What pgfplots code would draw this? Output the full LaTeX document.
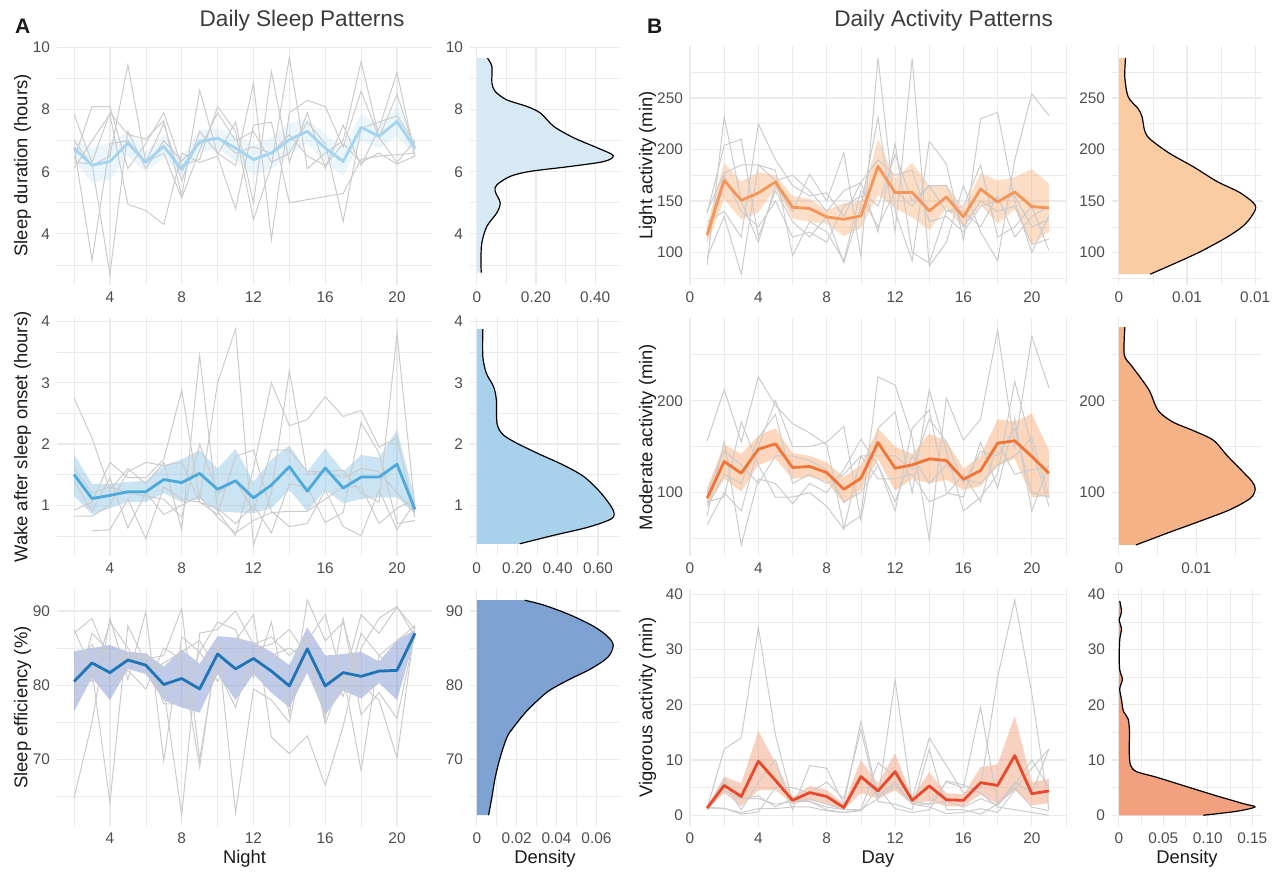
\documentclass[border=0pt]{standalone}
\usepackage{fontspec}
\setmainfont{Liberation Sans}
\usepackage{pgfplots}
\usepackage{pgfplotstable}
\pgfplotsset{compat=1.18}
\usepgfplotslibrary{fillbetween}

\definecolor{gridc}{HTML}{EBEBEB}
\definecolor{tickc}{HTML}{4D4D4D}
\definecolor{titc}{HTML}{1A1A1A}
\definecolor{greyc}{HTML}{CBCBCB}
% sleep colours
\definecolor{durc}{HTML}{A3D5F0}
\definecolor{durrib}{HTML}{C7E3F5}
\definecolor{durden}{HTML}{D6E9F5}
\definecolor{wasoc}{HTML}{4BAADB}
\definecolor{wasorib}{HTML}{89C3E7}
\definecolor{wasoden}{HTML}{A8D2EC}
\definecolor{effc}{HTML}{1F74B8}
\definecolor{effrib}{HTML}{718BCD}
\definecolor{effden}{HTML}{7EA3D3}
% activity colours
\definecolor{litc}{HTML}{F4965A}
\definecolor{litrib}{HTML}{F9B37F}
\definecolor{litden}{HTML}{FBCBA1}
\definecolor{modc}{HTML}{F07436}
\definecolor{modrib}{HTML}{F79F61}
\definecolor{modden}{HTML}{F6B287}
\definecolor{vigc}{HTML}{E8492B}
\definecolor{vigrib}{HTML}{F18D65}
\definecolor{vigden}{HTML}{F2A07E}

\pgfplotsset{
  panel/.style={
    scale only axis, anchor=north west,
    axis line style={draw=none},
    major tick length=0pt, minor tick length=0pt,
    xmajorgrids, ymajorgrids, xminorgrids, yminorgrids,
    major grid style={draw=gridc, line width=0.6pt},
    minor grid style={draw=gridc, line width=0.3pt},
    tick label style={font=\fontsize{7.7}{9}\selectfont, text=tickc},
    /pgf/number format/assume math mode=true,
    scaled ticks=false,
    label style={font=\fontsize{9.2}{11}\selectfont, text=titc},
    xlabel style={at={(axis description cs:0.5,-0.157)}, anchor=base},
  },
  mainA/.style={panel, width=187.5pt, xmin=1.05, xmax=21.95,
    xtick={4,8,12,16,20}, minor xtick={2,6,10,14,18},
    ylabel style={at={(axis description cs:-0.092,0.5)}, anchor=center}},
  mainB/.style={panel, width=188pt, xmin=0, xmax=22,
    xtick={0,4,8,12,16,20}, minor xtick={2,6,10,14,18,22},
    ylabel style={at={(axis description cs:-0.113,0.5)}, anchor=center}},
  dens/.style={panel, width=75pt},
  greyline/.style={draw=greyc, line width=0.5pt, forget plot},
  meanline/.style={line width=1.4pt, line join=round},
  outline/.style={draw=black, line width=0.6pt, smooth, tension=0.5},
}

% ---------- sleep data ----------
\pgfplotstableread{
x m lo hi
2 6.76 6.35 7.05
3 6.21 5.65 6.75
4 6.33 5.75 6.95
5 6.92 6.50 7.30
6 6.30 6.00 6.65
7 6.82 6.45 7.20
8 6.07 5.80 6.45
9 6.98 6.60 7.35
10 7.08 6.75 7.40
11 6.76 6.35 7.15
12 6.39 5.90 6.85
13 6.60 6.10 7.10
14 7.03 6.55 7.55
15 7.30 6.90 7.70
16 6.76 6.30 7.20
17 6.33 5.85 6.80
18 7.43 7.00 7.85
19 7.14 6.75 7.50
20 7.62 7.15 8.10
21 6.76 6.50 7.05
}\durm
\pgfplotstableread{
x a b c d e f
2 7.85 6.40 6.10 7.00 6.80 6.30
3 6.30 8.10 7.00 6.20 3.15 6.25
4 7.90 8.10 7.85 6.50 6.90 2.70
5 7.20 6.10 4.95 9.44 7.00 7.30
6 7.05 6.90 4.75 6.30 6.30 6.10
7 7.65 7.90 4.30 7.55 6.60 7.00
8 5.20 6.20 6.60 5.70 5.15 6.35
9 8.62 6.40 6.30 7.30 6.70 6.90
10 6.55 8.10 6.50 6.60 7.90 7.10
11 7.60 7.30 4.80 6.20 7.00 6.60
12 5.00 4.45 7.50 8.85 7.30 6.80
13 9.23 6.20 7.60 3.82 6.30 6.60
14 6.30 9.68 5.00 7.90 6.60 7.20
15 7.90 6.10 nan 8.30 7.60 6.50
16 6.10 6.60 nan 8.10 6.90 6.20
17 7.50 7.00 5.30 6.80 4.40 6.90
18 6.20 9.55 6.40 8.60 7.40 6.30
19 7.40 7.10 6.50 7.10 7.60 6.60
20 9.20 6.30 6.55 8.50 7.80 6.25
21 6.50 7.00 6.60 6.70 6.90 6.50
}\durg
\pgfplotstableread{
x m lo hi
2 1.50 1.15 1.83
3 1.11 0.85 1.35
4 1.16 0.95 1.35
5 1.22 1.05 1.38
6 1.22 1.05 1.40
7 1.42 1.20 1.65
8 1.37 1.05 1.75
9 1.52 1.10 1.90
10 1.26 0.90 1.60
11 1.40 0.88 1.92
12 1.12 0.87 1.38
13 1.33 0.95 1.75
14 1.63 1.25 1.98
15 1.23 0.90 1.55
16 1.61 1.25 1.93
17 1.28 1.03 1.55
18 1.46 1.10 1.82
19 1.46 1.13 1.78
20 1.67 1.13 2.23
21 0.93 0.85 1.10
}\wasom
\pgfplotstableread{
x a b c d e f
2 2.75 0.92 0.82 nan 1.40 1.60
3 2.10 1.05 0.82 0.58 0.90 1.20
4 1.25 1.70 1.00 0.60 1.45 1.30
5 1.60 1.45 1.55 1.10 0.63 1.20
6 1.35 1.45 1.70 0.45 1.20 1.15
7 1.70 1.75 1.65 1.30 0.85 1.10
8 0.60 2.88 1.70 1.10 1.00 0.80
9 3.45 1.10 1.05 1.05 1.15 2.00
10 0.90 3.00 0.85 0.95 0.80 1.20
11 0.50 3.88 1.80 0.70 0.55 1.40
12 1.60 0.35 1.90 1.00 0.75 0.90
13 3.00 1.20 0.90 0.55 0.88 1.90
14 2.30 3.20 0.65 1.35 0.90 1.90
15 2.40 1.50 0.70 1.30 0.90 1.55
16 2.77 1.55 1.25 0.72 1.10 1.55
17 2.45 1.57 0.65 0.88 1.30 1.45
18 2.55 1.20 0.50 2.35 1.30 1.60
19 1.95 1.05 1.25 1.85 0.70 1.55
20 2.10 3.80 0.60 0.70 0.95 1.20
21 0.80 0.95 1.05 0.75 1.10 0.90
}\wasog
\pgfplotstableread{
x m lo hi
2 80.5 76.5 84.6
3 83.0 81.0 85.0
4 81.7 78.0 85.4
5 83.4 82.2 84.5
6 82.7 81.5 84.3
7 80.1 78.0 82.5
8 80.9 77.0 84.8
9 79.5 76.3 82.9
10 84.2 81.5 86.6
11 82.2 78.0 86.4
12 83.6 81.5 85.8
13 81.9 79.0 84.5
14 79.9 77.0 82.7
15 84.9 81.7 87.8
16 79.9 76.0 84.0
17 81.7 79.3 84.2
18 81.2 78.2 84.5
19 81.9 80.3 83.2
20 82.0 78.0 86.0
21 87.0 86.5 87.5
}\effm
\pgfplotstableread{
x a b c d e f
2 87.0 64.8 87.5 82.5 82.0 78.0
3 89.0 75.0 82.0 85.5 80.5 87.0
4 83.0 89.0 64.2 80.0 88.5 84.5
5 84.0 80.8 88.0 82.0 85.0 83.5
6 83.5 89.9 83.0 79.5 81.5 84.0
7 84.0 69.8 79.5 85.0 83.0 77.5
8 90.3 86.5 62.5 83.5 84.5 77.5
9 70.0 84.5 87.0 69.0 86.0 84.5
10 85.0 88.5 87.5 86.0 82.0 80.5
11 86.0 87.5 90.0 62.8 77.0 84.0
12 89.5 81.0 85.5 79.5 85.0 83.5
13 73.0 88.5 86.5 78.0 85.5 84.0
14 70.8 76.0 84.0 75.0 87.5 85.0
15 73.2 91.5 86.0 86.5 84.0 83.5
16 66.5 86.0 89.5 74.8 75.5 82.0
17 74.5 88.5 80.5 81.5 89.0 78.5
18 85.0 80.0 89.5 68.5 76.0 87.0
19 89.0 78.0 87.0 84.0 79.0 84.0
20 90.6 70.2 90.5 86.0 75.5 82.0
21 86.5 88.0 87.5 88.0 87.0 86.5
}\effg

% ---------- activity data ----------
\pgfplotstableread{
x m lo hi
1 116.8 108 127
2 170.1 152 187
3 150.7 132 169
4 157.9 139 178
5 168.5 162 175
6 144.0 133 155
7 142.7 130 152
8 134.6 128 141
9 132.3 116 148
10 135.5 124 150
11 183.7 156 210
12 158.2 143 172
13 158.5 134 187
14 140.4 122 165
15 154.0 143 166
16 134.6 124 143
17 161.7 146 177
18 149.1 128 170
19 158.8 142 173
20 144.6 108 181
21 143.3 120 167
}\litm
\pgfplotstableread{
x a b c d e f
1 88 138 130 95 140 120
2 232 204 140 135 177 175
3 150 210 115 79 185 140
4 110 115 225 185 185 125
5 165 160 190 180 170 150
6 140 130 165 97 175 115
7 176 115 155 130 160 120
8 150 135 158 120 140 110
9 197 90 135 92 160 145
10 96 145 168 160 168 155
11 289 231 120 145 190 125
12 140 120 206 195 175 160
13 92 288 100 150 180 145
14 208 87 90 165 130 165
15 186 110 140 165 135 140
16 112 165 145 125 120 140
17 230 120 185 150 145 125
18 236 92 115 140 150 155
19 150 190 125 145 155 115
20 100 254 145 108 125 135
21 136 233 102 113 132 145
}\litg
\pgfplotstableread{
x m lo hi
1 93.8 85 105
2 133.8 115 152
3 121.1 101 142
4 147.3 130 162
5 153.1 137 170
6 127.3 115 143
7 128.4 117 140
8 121.8 112 133
9 103.6 88 117
10 115.6 103 130
11 154.5 136 170
12 126.5 102 150
13 130.2 115 142
14 136.7 110 164
15 134.9 114 156
16 114.5 103 126
17 124.0 107 140
18 153.8 129 180
19 156.4 137 177
20 139.3 95 186
21 121.1 96 146
}\modm
\pgfplotstableread{
x a b c d e f
1 156 65 75 90 85 100
2 212 100 156 95 120 145
3 155 80 43 177 110 130
4 226 150 115 130 160 110
5 195 200 110 95 185 140
6 175 150 88 95 110 140
7 165 150 110 100 120 135
8 152 155 100 85 110 125
9 62 172 125 60 120 90
10 75 70 158 140 140 100
11 226 170 130 115 140 130
12 217 188 80 115 140 90
13 160 100 170 120 125 140
14 49 212 190 90 180 110
15 203 145 100 98 155 130
16 157 80 95 120 110 115
17 180 95 155 90 145 110
18 277 120 105 155 140 130
19 150 221 180 120 170 140
20 270 150 80 125 100 160
21 214 85 130 128 95 95
}\modg
\pgfplotstableread{
x m lo hi
1 1.3 1.0 1.6
2 5.4 4.0 7.0
3 3.4 1.6 5.8
4 9.8 4.5 15.3
5 6.3 4.6 9.5
6 2.7 2.0 3.3
7 4.1 2.7 5.3
8 3.4 2.0 4.6
9 1.4 1.0 2.0
10 7.0 4.0 10.0
11 4.4 3.0 5.8
12 7.9 4.5 11.2
13 2.7 2.0 3.3
14 5.3 2.6 7.8
15 2.8 1.6 4.0
16 2.7 1.6 3.8
17 5.9 3.8 8.7
18 5.4 2.0 9.2
19 10.8 4.5 18.0
20 3.9 1.8 6.0
21 4.4 2.2 6.6
}\vigm
\pgfplotstableread{
x a b c d e f
1 1.2 1 1.3 1 1.5 1
2 12 6 1.3 4.5 1.2 6.5
3 14 1 0.2 3 0.5 3
4 34 6 0.6 3.5 1.2 3
5 14.5 10 5 1.5 1.2 2
6 2.5 1 5 3 1.5 2.5
7 3 9 4 2.5 1.5 2.5
8 2 8.5 6 1 0.8 1.5
9 1 2 3 0.5 0.5 1
10 1 17 15.5 0.8 1 7
11 9.5 3 2.5 5 3 3.5
12 7 24.5 2 1.2 5.5 6
13 3 2.5 1 0.5 2 2
14 14 2 12 1 1.5 2
15 9 6 1 6.2 0.3 2.5
16 4 5 1 5.5 0.5 1.5
17 5 19.6 0.2 4 1.2 3
18 25 2 2 1.5 0.5 1.8
19 39 6 5.5 1 4.5 5
20 22 4 10 0.5 8.5 1.5
21 1 12 5 0 12 0.8
}\vigg

\begin{document}
\begin{tikzpicture}
\path (0,0) rectangle (639.5pt,-436pt);

\node[anchor=base west, font=\bfseries\fontsize{10.5}{12}\selectfont, text=titc] at (4pt,-16.7pt) {A};
\node[anchor=base, font=\fontsize{11.3}{13}\selectfont, text=titc!85] at (151pt,-13.3pt) {Daily Sleep Patterns};
\node[anchor=base west, font=\bfseries\fontsize{10.5}{12}\selectfont, text=titc] at (320pt,-16.7pt) {B};
\node[anchor=base, font=\fontsize{11.3}{13}\selectfont, text=titc!85] at (471.8pt,-13.3pt) {Daily Activity Patterns};

% ===== A: sleep duration =====
\begin{axis}[mainA, at={(28.5pt,-23pt)}, height=119.5pt,
  ymin=2.35, ymax=10.05, ytick={4,6,8,10}, minor ytick={3,5,7,9},
  ylabel={Sleep duration (hours)}]
\pgfplotsinvokeforeach{a,b,c,d,e,f}{\addplot[greyline] table[x=x,y=#1]{\durg};}
\addplot[draw=none, name path=hi, forget plot] table[x=x,y=hi]{\durm};
\addplot[draw=none, name path=lo, forget plot] table[x=x,y=lo]{\durm};
\addplot[fill=durrib, fill opacity=0.35, draw=none] fill between[of=hi and lo];
\addplot[meanline, color=durc] table[x=x,y=m]{\durm};
\end{axis}
\begin{axis}[dens, at={(235pt,-23pt)}, height=119.5pt,
  xmin=-0.023, xmax=0.484, ymin=2.35, ymax=10.05,
  xtick={0,0.2,0.4}, xticklabels={0,0.20,0.40}, minor xtick={0.1,0.3},
  ytick={4,6,8,10}, minor ytick={3,5,7,9}]
\addplot[fill=durden, draw=none] coordinates {(0,2.75) (0.015,2.75) (0.014,3.17) (0.017,3.71) (0.034,4.24) (0.068,4.68) (0.079,5.0) (0.062,5.37) (0.068,5.58) (0.113,5.85) (0.18,6.01) (0.316,6.17) (0.43,6.33) (0.461,6.52) (0.407,6.77) (0.328,7.09) (0.26,7.46) (0.215,7.89) (0.17,8.10) (0.10,8.32) (0.062,8.59) (0.051,8.86) (0.051,9.39) (0.036,9.66) (0,9.66)};
\addplot[outline] coordinates {(0.015,2.75) (0.014,3.17) (0.017,3.71) (0.034,4.24) (0.068,4.68) (0.079,5.0) (0.062,5.37) (0.068,5.58) (0.113,5.85) (0.18,6.01) (0.316,6.17) (0.43,6.33) (0.461,6.52) (0.407,6.77) (0.328,7.09) (0.26,7.46) (0.215,7.89) (0.17,8.10) (0.10,8.32) (0.062,8.59) (0.051,8.86) (0.051,9.39) (0.036,9.66)};
\end{axis}

% ===== A: wake after sleep onset =====
\begin{axis}[mainA, at={(28.5pt,-159pt)}, height=119pt,
  ymin=0.17, ymax=4.06, ytick={1,2,3,4}, minor ytick={0.5,1.5,2.5,3.5},
  ylabel={Wake after sleep onset (hours)}]
\pgfplotsinvokeforeach{a,b,c,d,e,f}{\addplot[greyline] table[x=x,y=#1]{\wasog};}
\addplot[draw=none, name path=hi, forget plot] table[x=x,y=hi]{\wasom};
\addplot[draw=none, name path=lo, forget plot] table[x=x,y=lo]{\wasom};
\addplot[fill=wasorib, fill opacity=0.45, draw=none] fill between[of=hi and lo];
\addplot[meanline, color=wasoc] table[x=x,y=m]{\wasom};
\end{axis}
\begin{axis}[dens, at={(235pt,-159pt)}, height=119pt,
  xmin=-0.0335, xmax=0.709, ymin=0.17, ymax=4.06,
  xtick={0,0.2,0.4,0.6}, xticklabels={0,0.20,0.40,0.60}, minor xtick={0.1,0.3,0.5},
  ytick={1,2,3,4}, minor ytick={0.5,1.5,2.5,3.5}]
\addplot[fill=wasoden, draw=none] coordinates {(0,0.37) (0.213,0.37) (0.383,0.51) (0.55,0.64) (0.667,0.78) (0.675,0.92) (0.617,1.19) (0.533,1.46) (0.433,1.65) (0.3,1.85) (0.183,2.04) (0.125,2.17) (0.1,2.34) (0.097,2.72) (0.083,2.94) (0.047,3.16) (0.03,3.43) (0.03,3.88) (0,3.88)};
\addplot[outline] coordinates {(0.213,0.37) (0.383,0.51) (0.55,0.64) (0.667,0.78) (0.675,0.92) (0.617,1.19) (0.533,1.46) (0.433,1.65) (0.3,1.85) (0.183,2.04) (0.125,2.17) (0.1,2.34) (0.097,2.72) (0.083,2.94) (0.047,3.16) (0.03,3.43) (0.03,3.88)};
\end{axis}

% ===== A: sleep efficiency =====
\begin{axis}[mainA, at={(28.5pt,-294.5pt)}, height=118.5pt,
  ymin=61.05, ymax=92.95, ytick={70,80,90}, minor ytick={65,75,85},
  ylabel={Sleep efficiency (\%)}, xlabel={Night}]
\pgfplotsinvokeforeach{a,b,c,d,e,f}{\addplot[greyline] table[x=x,y=#1]{\effg};}
\addplot[draw=none, name path=hi, forget plot] table[x=x,y=hi]{\effm};
\addplot[draw=none, name path=lo, forget plot] table[x=x,y=lo]{\effm};
\addplot[fill=effrib, fill opacity=0.45, draw=none] fill between[of=hi and lo];
\addplot[meanline, color=effc] table[x=x,y=m]{\effm};
\end{axis}
\begin{axis}[dens, at={(235pt,-294.5pt)}, height=118.5pt,
  xmin=-0.0034, xmax=0.0718, ymin=61.05, ymax=92.95,
  xtick={0,0.02,0.04,0.06}, xticklabels={0,0.02,0.04,0.06}, minor xtick={0.01,0.03,0.05},
  ytick={70,80,90}, minor ytick={65,75,85}, xlabel={Density}]
\addplot[fill=effden, draw=none] coordinates {(0,62.5) (0.0059,62.5) (0.0076,64.97) (0.0093,67.66) (0.0118,70.35) (0.0152,73.04) (0.0186,74.4) (0.0253,76.6) (0.0354,79.1) (0.0456,80.67) (0.0574,82.24) (0.0658,83.8) (0.0684,85.38) (0.0658,86.5) (0.0591,87.85) (0.0472,89.42) (0.0338,90.77) (0.024,91.44) (0,91.44)};
\addplot[outline] coordinates {(0.0059,62.5) (0.0076,64.97) (0.0093,67.66) (0.0118,70.35) (0.0152,73.04) (0.0186,74.4) (0.0253,76.6) (0.0354,79.1) (0.0456,80.67) (0.0574,82.24) (0.0658,83.8) (0.0684,85.38) (0.0658,86.5) (0.0591,87.85) (0.0472,89.42) (0.0338,90.77) (0.024,91.44)};
\end{axis}

% ===== B: light activity =====
\begin{axis}[mainB, at={(345pt,-23pt)}, height=119.5pt,
  ymin=68.5, ymax=300.5, ytick={100,150,200,250}, minor ytick={75,125,175,225,275},
  ylabel={Light activity (min)}]
\pgfplotsinvokeforeach{a,b,c,d,e,f}{\addplot[greyline] table[x=x,y=#1]{\litg};}
\addplot[draw=none, name path=hi, forget plot] table[x=x,y=hi]{\litm};
\addplot[draw=none, name path=lo, forget plot] table[x=x,y=lo]{\litm};
\addplot[fill=litrib, fill opacity=0.45, draw=none] fill between[of=hi and lo];
\addplot[meanline, color=litc] table[x=x,y=m]{\litm};
\end{axis}
\begin{axis}[dens, at={(556pt,-23pt)}, height=119.5pt,
  xmin=-0.0005, xmax=0.0105, ymin=68.5, ymax=300.5,
  xtick={0,0.005,0.01}, xticklabels={0,0.01,0.01}, minor xtick={0.0025,0.0075},
  ytick={100,150,200,250}, minor ytick={75,125,175,225,275}]
\addplot[fill=litden, draw=none] coordinates {(0,79) (0.0023,79) (0.0042,90) (0.006,101) (0.0079,114.7) (0.0091,125.6) (0.0098,136.5) (0.0100,146) (0.0089,158) (0.0072,169) (0.0055,183) (0.0037,196.5) (0.0023,210) (0.0019,218) (0.0017,232) (0.0014,240) (0.00069,251) (0.00044,270) (0.00049,289) (0,289)};
\addplot[outline] coordinates {(0.0023,79) (0.0042,90) (0.006,101) (0.0079,114.7) (0.0091,125.6) (0.0098,136.5) (0.0100,146) (0.0089,158) (0.0072,169) (0.0055,183) (0.0037,196.5) (0.0023,210) (0.0019,218) (0.0017,232) (0.0014,240) (0.00069,251) (0.00044,270) (0.00049,289)};
\end{axis}

% ===== B: moderate activity =====
\begin{axis}[mainB, at={(345pt,-159pt)}, height=119pt,
  ymin=31, ymax=290, ytick={100,200}, minor ytick={50,150,250},
  ylabel={Moderate activity (min)}]
\pgfplotsinvokeforeach{a,b,c,d,e,f}{\addplot[greyline] table[x=x,y=#1]{\modg};}
\addplot[draw=none, name path=hi, forget plot] table[x=x,y=hi]{\modm};
\addplot[draw=none, name path=lo, forget plot] table[x=x,y=lo]{\modm};
\addplot[fill=modrib, fill opacity=0.42, draw=none] fill between[of=hi and lo];
\addplot[meanline, color=modc] table[x=x,y=m]{\modm};
\end{axis}
\begin{axis}[dens, at={(556pt,-159pt)}, height=119pt,
  xmin=-0.00044, xmax=0.00924, ymin=31, ymax=290,
  xtick={0,0.005}, xticklabels={0,0.01}, minor xtick={0.0025,0.0075},
  ytick={100,200}, minor ytick={50,150,250}]
\addplot[fill=modden, draw=none] coordinates {(0,43) (0.0011,43) (0.0033,57) (0.0053,69.3) (0.0072,81.6) (0.0085,94) (0.0088,104) (0.0086,112) (0.0079,124.5) (0.007,140) (0.0061,157) (0.0048,167.5) (0.0035,176.7) (0.00255,189) (0.002,210) (0.0015,222.7) (0.00082,238) (0.00035,250) (0.00039,280) (0,280)};
\addplot[outline] coordinates {(0.0011,43) (0.0033,57) (0.0053,69.3) (0.0072,81.6) (0.0085,94) (0.0088,104) (0.0086,112) (0.0079,124.5) (0.007,140) (0.0061,157) (0.0048,167.5) (0.0035,176.7) (0.00255,189) (0.002,210) (0.0015,222.7) (0.00082,238) (0.00035,250) (0.00039,280)};
\end{axis}

% ===== B: vigorous activity =====
\begin{axis}[mainB, at={(345pt,-294.5pt)}, height=118.5pt,
  ymin=-1.95, ymax=40.95, ytick={0,10,20,30,40}, minor ytick={5,15,25,35},
  ylabel={Vigorous activity (min)}, xlabel={Day}]
\pgfplotsinvokeforeach{a,b,c,d,e,f}{\addplot[greyline] table[x=x,y=#1]{\vigg};}
\addplot[draw=none, name path=hi, forget plot] table[x=x,y=hi]{\vigm};
\addplot[draw=none, name path=lo, forget plot] table[x=x,y=lo]{\vigm};
\addplot[fill=vigrib, fill opacity=0.4, draw=none] fill between[of=hi and lo];
\addplot[meanline, color=vigc] table[x=x,y=m]{\vigm};
\end{axis}
\begin{axis}[dens, at={(556pt,-294.5pt)}, height=118.5pt,
  xmin=-0.0077, xmax=0.161, ymin=-1.95, ymax=40.95,
  xtick={0,0.05,0.1,0.15}, xticklabels={0,0.05,0.10,0.15}, minor xtick={0.025,0.075,0.125},
  ytick={0,10,20,30,40}, minor ytick={5,15,25,35}, xlabel={Density}]
\addplot[fill=vigden, draw=none] coordinates {(0,0) (0.095,0) (0.132,0.7) (0.153,1.5) (0.14,2.1) (0.106,3.7) (0.072,5.4) (0.042,6.9) (0.0198,7.9) (0.013,9.1) (0.0116,11.9) (0.012,14.9) (0.0105,17.4) (0.005,18.9) (0.003,20.9) (0.001,22.9) (0.004,24.6) (0.001,26.3) (0.0004,28.8) (0.001,31.8) (0.003,33.8) (0.0004,35.3) (0.003,36.8) (0.001,38.8) (0,38.8)};
\addplot[outline] coordinates {(0.095,0) (0.132,0.7) (0.153,1.5) (0.14,2.1) (0.106,3.7) (0.072,5.4) (0.042,6.9) (0.0198,7.9) (0.013,9.1) (0.0116,11.9) (0.012,14.9) (0.0105,17.4) (0.005,18.9) (0.003,20.9) (0.001,22.9) (0.004,24.6) (0.001,26.3) (0.0004,28.8) (0.001,31.8) (0.003,33.8) (0.0004,35.3) (0.003,36.8) (0.001,38.8)};
\end{axis}
\end{tikzpicture}
\end{document}
